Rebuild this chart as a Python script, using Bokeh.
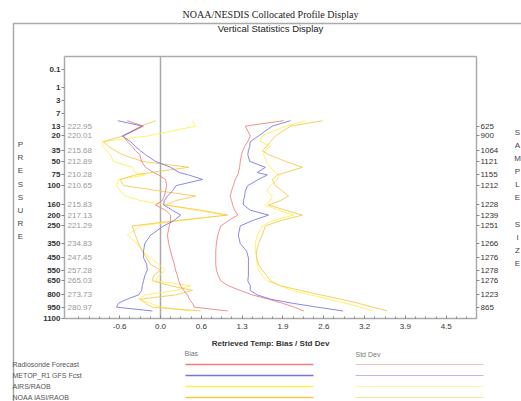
from bokeh.plotting import figure
from bokeh.models import (Range1d, LinearAxis, FixedTicker, Label, ColumnDataSource)
from bokeh.core.properties import value
from bokeh.embed import file_html
from bokeh.resources import INLINE

# ---------------- data ----------------
pressure = [10, 13, 20, 25, 30, 35, 40, 50, 60, 70, 75, 85, 100, 115, 130, 145, 160, 180,
            200, 225, 250, 300, 350, 400, 450, 500, 550, 600, 650, 700, 750, 800, 850, 900, 950, 1000]

radiosonde_bias = [-0.53, -0.27, -0.59, -0.53, -0.45, -0.40, -0.33, -0.30, -0.24, -0.11, -0.03, 0.08,
                   0.10, 0.08, 0.06, 0.03, -0.08, 0.08, 0.16, 0.16, 0.14, 0.11, 0.13, 0.16, 0.19, 0.22,
                   0.24, 0.27, 0.29, 0.32, 0.37, 0.43, 0.46, 0.51, 0.54, 1.07]
metop_bias = [-0.68, -0.29, -0.61, -0.48, -0.40, -0.32, -0.24, -0.08, 0.16, 0.30, 0.45, 0.67,
              0.25, 0.19, 0.11, 0.06, 0.05, 0.19, 0.32, 0.21, 0.05, -0.16, -0.25, -0.27, -0.27, -0.22,
              -0.21, -0.25, -0.27, -0.29, -0.30, -0.35, -0.53, -0.67, -0.70, -0.13]
airs_bias = [0.51, 0.56, -0.20, -0.92, -0.92, -0.86, -0.80, -0.75, -0.45, -0.40, -0.24, -0.67,
             -0.70, -0.64, -0.56, -0.32, 0.08, 0.56, 1.04, 0.32, -0.32, -0.53, -0.37, -0.29, -0.16, -0.03,
             0.08, -0.03, -0.08, 0.48, 0.24, -0.24, -0.35, -0.16, 0.0, 0.48]
iasi_bias = [-0.08, -0.32, -0.59, -0.91, -0.83, -0.72, -0.61, -0.29, 0.45, -0.16, -0.40, -0.64,
             -0.59, 0.0, 0.56, 0.24, 0.08, 0.64, 1.07, 0.24, -0.45, -0.40, -0.35, -0.29, -0.22, -0.16,
             0.0, -0.11, -0.13, 0.16, 0.51, 0.24, -0.32, -0.24, -0.13, 0.64]

radiosonde_std = [1.96, 1.35, 1.43, 1.39, 1.34, 1.31, 1.29, 1.27, 1.26, 1.24, 1.23, 1.19,
                  1.16, 1.13, 1.11, 1.13, 1.15, 1.18, 1.23, 1.08, 0.96, 0.91, 0.89, 0.88, 0.88, 0.88,
                  0.89, 0.92, 0.96, 1.08, 1.27, 1.46, 1.72, 1.94, 2.13, 2.28]
metop_std = [2.07, 1.78, 1.56, 1.43, 1.42, 1.40, 1.39, 1.42, 1.67, 1.54, 1.70, 1.56,
             1.39, 1.35, 1.34, 1.32, 1.32, 1.43, 1.72, 1.46, 1.27, 1.24, 1.27, 1.37, 1.40, 1.40,
             1.40, 1.40, 1.39, 1.43, 1.43, 1.54, 1.75, 2.10, 2.50, 2.91]
airs_std = [2.31, 1.99, 1.62, 1.59, 1.75, 1.66, 1.64, 1.69, 1.75, 1.83, 1.88, 1.86,
            1.75, 1.69, 1.78, 1.75, 1.67, 1.88, 2.12, 1.78, 1.62, 1.54, 1.51, 1.51, 1.53, 1.54,
            1.56, 1.62, 1.70, 1.91, 2.10, 2.39, 2.68, 2.95, 3.18, 3.38]
iasi_std = [2.58, 2.07, 1.83, 1.75, 1.69, 1.62, 1.72, 1.99, 2.26, 1.99, 1.86, 1.78,
            1.83, 1.94, 2.04, 1.91, 1.72, 1.99, 2.26, 1.91, 1.67, 1.62, 1.56, 1.53, 1.53, 1.56,
            1.62, 1.69, 1.75, 1.91, 2.23, 2.55, 2.87, 3.15, 3.38, 3.61]

pressure_ticks = [0.1, 1, 3, 7, 13, 20, 35, 50, 75, 100, 160, 200, 250, 350, 450, 550, 650, 800, 950, 1100]
pressure_labels = ["0.1", "1", "3", "7", "13", "20", "35", "50", "75", "100", "160", "200", "250",
                   "350", "450", "550", "650", "800", "950", "1100"]
sample_levels = [13, 20, 35, 50, 75, 100, 160, 200, 250, 350, 450, 550, 650, 800, 950]
sample_size = ["625", "900", "1064", "1121", "1155", "1212", "1228", "1239", "1251", "1266",
               "1276", "1278", "1276", "1223", "865"]
mean_temp = ["222.95", "220.01", "215.68", "212.89", "210.28", "210.65", "215.83", "217.13",
             "221.29", "234.83", "247.45", "257.28", "265.03", "273.73", "280.97"]
x_ticks = [-0.65, 0.0, 0.65, 1.3, 1.95, 2.6, 3.25, 3.9, 4.55]
x_tick_labels = ["-0.6", "0.0", "0.6", "1.3", "1.9", "2.6", "3.2", "3.9", "4.5"]

series_names = ["Radiosonde Forecast", "METOP_R1 GFS Fcst", "AIRS/RAOB", "NOAA IASI/RAOB"]
series_colors = ["#f27c7c", "#7474e6", "#fff050", "#f8c64a"]

# ---------------- scale helpers ----------------
K = 0.286  # pressure axis is drawn in p**0.286 coordinates


def vs(p):
    return p ** K


# page-pixel -> data helpers for things placed around the plot box
def dx(px):
    return (px - 160.0) / 62.8


def dy(py):
    return (py - 50.57) / 36.04


W, H = 521, 401
BOX_L, BOX_R, BOX_T, BOX_B = dx(64), dx(476), dy(56), dy(318)
FONT = "Liberation Sans"
AX = "#aaaaaa"

p = figure(width=W, height=H, x_range=Range1d(dx(0), dx(W)), y_range=Range1d(dy(H), dy(0)),
           x_axis_type=None, y_axis_type=None, output_backend="svg", toolbar_location=None,
           min_border=0, title=None)
p.outline_line_color = None
p.background_fill_color = "white"
p.border_fill_color = "white"


def style_axis(ax):
    ax.axis_line_color = AX
    ax.axis_line_width = 1.5
    ax.major_tick_line_color = "#888888"
    ax.minor_tick_line_color = "#888888"
    ax.major_label_text_font_size = "8px"
    ax.major_label_text_color = "#333333"
    ax.major_label_text_font = FONT


yl = LinearAxis(ticker=FixedTicker(ticks=[vs(v) for v in pressure_ticks]),
                major_label_overrides={vs(v): s for v, s in zip(pressure_ticks, pressure_labels)},
                fixed_location=BOX_L, bounds=(BOX_T, BOX_B))
style_axis(yl)
yl.major_tick_out = 3
yl.major_tick_in = 0
yl.major_label_text_font_style = "bold"
yl.major_label_standoff = 1
p.add_layout(yl, "left")

yr = LinearAxis(ticker=FixedTicker(ticks=[vs(v) for v in sample_levels]),
                major_label_overrides={vs(v): s for v, s in zip(sample_levels, sample_size)},
                fixed_location=BOX_R, bounds=(BOX_T, BOX_B))
style_axis(yr)
yr.major_tick_out = 3
yr.major_tick_in = 0
yr.major_label_standoff = 1
p.add_layout(yr, "right")

minor = [-1.3 + i * 0.1625 for i in range(40)]
xb = LinearAxis(ticker=FixedTicker(ticks=x_ticks, minor_ticks=minor),
                major_label_overrides={v: s for v, s in zip(x_ticks, x_tick_labels)},
                fixed_location=BOX_B, bounds=(BOX_L, BOX_R))
style_axis(xb)
xb.major_tick_in = 3
xb.major_tick_out = 0
xb.minor_tick_in = 2
xb.minor_tick_out = 0
xb.major_label_standoff = 5
p.add_layout(xb, "below")

xt = LinearAxis(ticker=FixedTicker(ticks=[]), fixed_location=BOX_T, bounds=(BOX_L, BOX_R))
style_axis(xt)
xt.major_tick_in = 0
xt.major_tick_out = 0
p.add_layout(xt, "above")

# zero reference line
p.segment(x0=[0], y0=[BOX_T], x1=[0], y1=[BOX_B], line_color=AX, line_width=1.5)

# profiles
ys = [vs(v) for v in pressure]
src = ColumnDataSource(dict(y=ys,
                            rb=radiosonde_bias, mb=metop_bias, ab=airs_bias, ib=iasi_bias,
                            rs=radiosonde_std, ms=metop_std, as_=airs_std, is_=iasi_std))
for col, c in zip(["ab", "ib", "as_", "is_"], [series_colors[2], series_colors[3]] * 2):
    p.line(x=col, y="y", source=src, line_color=c, line_width=0.95, line_alpha=0.9)
for col, c in zip(["rb", "mb", "rs", "ms"], [series_colors[0], series_colors[1]] * 2):
    p.line(x=col, y="y", source=src, line_color=c, line_width=0.95, line_alpha=0.9)

# mean temperatures inside the box
p.text(x=[dx(67)] * len(sample_levels), y=[vs(v) for v in sample_levels], text=mean_temp,
       text_font=value(FONT), text_font_size="8px", text_color="#999999",
       text_baseline="middle", text_align="left")

# outer box (left + top edges)
p.line(x=[dx(13), dx(13), dx(W + 5)], y=[dy(H + 5), dy(23), dy(23)], line_color=AX, line_width=1.5)

# titles
p.add_layout(Label(x=dx(270), y=dy(14), text="NOAA/NESDIS Collocated Profile Display",
                   text_align="center", text_baseline="middle", text_font="Liberation Serif",
                   text_font_size="10px", text_color="#222222"))
p.add_layout(Label(x=dx(270), y=dy(28), text="Vertical Statistics Display",
                   text_align="center", text_baseline="middle", text_font=FONT,
                   text_font_size="9.5px", text_color="#222222"))
p.add_layout(Label(x=dx(270), y=dy(343), text="Retrieved Temp: Bias / Std Dev",
                   text_align="center", text_baseline="middle", text_font=FONT,
                   text_font_size="8px", text_font_style="bold", text_color="#333333"))

# side letters
for i, ch in enumerate("PRESSURE"):
    p.add_layout(Label(x=dx(20), y=dy(144 + i * 13.2), text=ch, text_align="center",
                       text_baseline="middle", text_font=FONT, text_font_size="8px", text_color="#444444"))
for i, ch in enumerate("SAMPLE"):
    p.add_layout(Label(x=dx(517), y=dy(132 + i * 13), text=ch, text_align="center",
                       text_baseline="middle", text_font=FONT, text_font_size="8px", text_color="#444444"))
for i, ch in enumerate("SIZE"):
    p.add_layout(Label(x=dx(517), y=dy(224 + i * 13), text=ch, text_align="center",
                       text_baseline="middle", text_font=FONT, text_font_size="8px", text_color="#444444"))

# legend
p.add_layout(Label(x=dx(184), y=dy(353), text="Bias", text_align="left", text_baseline="middle",
                   text_font=FONT, text_font_size="7px", text_color="#777777"))
p.add_layout(Label(x=dx(355), y=dy(354), text="Std Dev", text_align="left", text_baseline="middle",
                   text_font=FONT, text_font_size="7px", text_color="#777777"))
rows = [364, 375, 386, 397]
for name, c, r in zip(series_names, series_colors, rows):
    p.add_layout(Label(x=dx(12), y=dy(r), text=name, text_align="left", text_baseline="middle",
                       text_font=FONT, text_font_size="7px", text_color="#555555"))
p.segment(x0=[dx(185)] * 4, x1=[dx(313)] * 4, y0=[dy(r) for r in rows], y1=[dy(r) for r in rows],
          line_color=series_colors, line_width=1.6)
p.segment(x0=[dx(355)] * 4, x1=[dx(483)] * 4, y0=[dy(r) for r in rows], y1=[dy(r) for r in rows],
          line_color=series_colors, line_width=1.2, line_alpha=0.5)

open("out.html", "w").write(file_html(p, INLINE))
